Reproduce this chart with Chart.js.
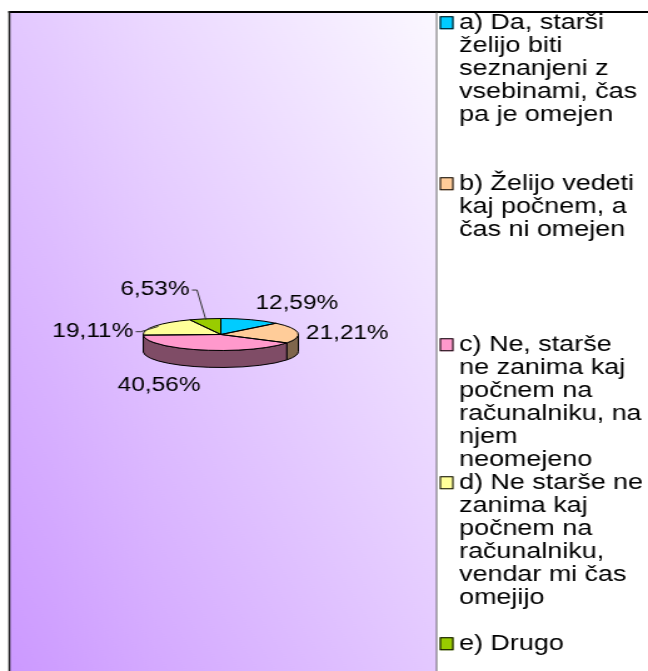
<!DOCTYPE html>
<html>
<head>
<meta charset="utf-8">
<script src="https://cdn.jsdelivr.net/npm/chart.js@4.4.0/dist/chart.umd.min.js"></script>
<style>
  html, body { margin: 0; padding: 0; background: #fff; overflow: hidden; }
  /* the original picture is stretched sideways, so the canvas is too */
  #myChart { transform: scaleX(1.251); transform-origin: 0 0; }
</style>
</head>
<body>
<canvas id="myChart" width="518" height="671"></canvas>
<script>
// data
const categories = [
  "a) Da, starši želijo biti seznanjeni z vsebinami, čas pa je omejen",
  "b) Želijo vedeti kaj počnem, a čas ni omejen",
  "c) Ne, starše ne zanima kaj počnem na računalniku, na njem neomejeno",
  "d) Ne starše ne zanima kaj počnem na računalniku, vendar mi čas omejijo",
  "e) Drugo"
];
const values = [12.59, 21.21, 40.56, 19.11, 6.53];
const colors = ["#00CCFF", "#FFCC99", "#FF99CC", "#FFFF99", "#99CC00"];

// layout
const fontFamily = "'Liberation Sans', Arial, sans-serif";
const legendSize = 21.5;
const legendGap = [2, 4, 0, 1, 0];          // empty lines after each legend entry
const labelNudge = [[0, 0], [-3.5, 2], [2, 3], [-9, 18], [-38, -12]];
const leader = [false, false, false, true, true];
const squash = 0.258;   // height / width of the pie ellipse
const depth = 17;       // thickness of the pie

function wrap(text, font, maxW) {
  let c = document.createElement('canvas').getContext('2d');
  c.font = font;
  let lines = [], line = '';
  text.split(' ').forEach(w => {
    let test = line ? line + ' ' + w : w;
    if (line && c.measureText(test).width > maxW) {
      lines.push(line);
      line = w;
    } else {
      line = test;
    }
  });
  lines.push(line);
  return lines;
}

let legendLines = categories.map((t, i) =>
  wrap(t, legendSize + "px " + fontFamily, 149.3).concat(Array(legendGap[i]).fill('')));

function dark(hex) {
  let n = parseInt(hex.slice(1), 16);
  return `rgb(${(n >> 16 & 255) >> 1},${(n >> 8 & 255) >> 1},${(n & 255) >> 1})`;
}

function squashPath(ctx, cx, cy, fn) {
  ctx.save();
  ctx.translate(cx, cy);
  ctx.scale(1, squash);
  ctx.beginPath();
  fn();
  ctx.restore();
}

const pie3d = {
  id: 'pie3d',
  beforeDraw(chart) {
    let ctx = chart.ctx;
    let W = chart.width, H = chart.height;
    let x0 = 7.5, x1 = 349, y0 = 12;
    ctx.save();
    ctx.fillStyle = '#fff';
    ctx.fillRect(0, 0, W, H);
    let g = ctx.createLinearGradient(-91, 481, 447, 202);
    g.addColorStop(0, '#CC99FF');
    g.addColorStop(1, '#FBF8FF');
    ctx.fillStyle = g;
    ctx.fillRect(x0, y0, x1 - x0, H - y0);
    ctx.fillStyle = '#000';
    ctx.fillRect(x0 - 0.8, y0 - 1, W, 2);
    ctx.fillStyle = '#222';
    ctx.fillRect(x0 - 0.8, y0 - 1, 1.6, H);
    ctx.fillStyle = '#444';
    ctx.fillRect(x1 - 0.4, y0, 0.8, H);
    ctx.restore();
  },
  beforeDatasetsDraw(chart) {
    let ctx = chart.ctx;
    let arcs = chart.getDatasetMeta(0).data;
    // side of the pie, only the front half shows
    arcs.forEach((arc, i) => {
      let p = arc.getProps(['x', 'y', 'startAngle', 'endAngle', 'outerRadius'], true);
      let a = Math.max(p.startAngle, 0), b = Math.min(p.endAngle, Math.PI);
      if (a >= b) return;
      squashPath(ctx, p.x, p.y, () => {
        ctx.arc(0, 0, p.outerRadius, a, b);
        ctx.arc(0, depth / squash, p.outerRadius, b, a, true);
        ctx.closePath();
      });
      ctx.fillStyle = dark(colors[i]);
      ctx.fill();
      ctx.lineWidth = 1;
      ctx.strokeStyle = '#000';
      ctx.stroke();
    });
    let p = arcs[0].getProps(['x', 'y'], true);
    ctx.save();
    ctx.translate(p.x, p.y);
    ctx.scale(1, squash);
    ctx.translate(-p.x, -p.y);
  },
  afterDatasetsDraw(chart) {
    let ctx = chart.ctx;
    ctx.restore();
    let arcs = chart.getDatasetMeta(0).data;
    // outlines of the top face
    arcs.forEach(arc => {
      let p = arc.getProps(['x', 'y', 'startAngle', 'endAngle', 'outerRadius'], true);
      squashPath(ctx, p.x, p.y, () => {
        ctx.moveTo(0, 0);
        ctx.arc(0, 0, p.outerRadius, p.startAngle, p.endAngle);
        ctx.closePath();
      });
      ctx.lineWidth = 1;
      ctx.strokeStyle = '#000';
      ctx.stroke();
    });
    // percentage labels
    ctx.save();
    ctx.font = "19.5px " + fontFamily;
    ctx.fillStyle = '#000';
    ctx.textAlign = 'center';
    ctx.textBaseline = 'middle';
    arcs.forEach((arc, i) => {
      let p = arc.getProps(['x', 'y', 'startAngle', 'endAngle', 'outerRadius'], true);
      let mid = (p.startAngle + p.endAngle) / 2;
      let ux = Math.cos(mid), uy = Math.sin(mid);
      let r = p.outerRadius;
      let ax = p.x + (r + 10) * ux;
      let ay = p.y + (r * squash + 10) * uy + (uy > 0 ? depth * uy : 0);
      let text = values[i].toFixed(2).replace('.', ',') + '%';
      let w = ctx.measureText(text).width, h = 14;
      let lx = ux > 0.22 ? ax + w / 2 : ux < -0.22 ? ax - w / 2 : ax;
      let ly = uy < -0.3 ? ay - h / 2 : uy > 0.3 ? ay + h / 2 : ay;
      lx += labelNudge[i][0];
      ly += labelNudge[i][1];
      if (leader[i]) {
        let right = lx + w / 2;
        ctx.beginPath();
        ctx.moveTo(right + 2, ly);
        ctx.lineTo(right + 6, ly);
        ctx.lineTo(p.x + 0.95 * r * ux, p.y + 0.95 * r * squash * uy);
        ctx.strokeStyle = '#333';
        ctx.lineWidth = 1;
        ctx.stroke();
      }
      ctx.fillText(text, lx, ly);
    });
    ctx.restore();
  },
  afterDraw(chart) {
    // legend markers: coloured squares with a black edge, left of each entry
    let ctx = chart.ctx;
    let boxes = chart.legend.legendHitBoxes;
    ctx.save();
    boxes.forEach((hb, i) => {
      let x = hb.left - 1.5, y = hb.top + legendSize / 2 - 6.5;
      ctx.fillStyle = colors[i];
      ctx.fillRect(x, y, 11, 13);
      ctx.strokeStyle = '#000';
      ctx.lineWidth = 1;
      ctx.strokeRect(x + 0.5, y + 0.5, 10, 12);
    });
    ctx.restore();
  }
};

new Chart(document.getElementById('myChart'), {
  type: 'pie',
  data: {
    labels: categories,
    datasets: [{
      data: values,
      backgroundColor: colors,
      borderWidth: 0
    }]
  },
  options: {
    responsive: false,
    animation: false,
    radius: 62,
    layout: { padding: { top: 12, bottom: 14, left: 0, right: 0 } },
    plugins: {
      tooltip: { enabled: false },
      legend: {
        position: 'right',
        align: 'start',
        maxWidth: 165,
        labels: {
          boxWidth: 3.25,
          boxHeight: 12,
          padding: 0,
          color: '#000',
          font: { family: fontFamily, size: legendSize, lineHeight: '23px' },
          generateLabels(chart) {
            return chart.data.labels.map((t, i) => ({
              text: legendLines[i],
              fillStyle: 'rgba(0,0,0,0)',
              lineWidth: 0,
              fontColor: '#000',
              hidden: false,
              index: i
            }));
          }
        }
      }
    }
  },
  plugins: [pie3d]
});
</script>
</body>
</html>
